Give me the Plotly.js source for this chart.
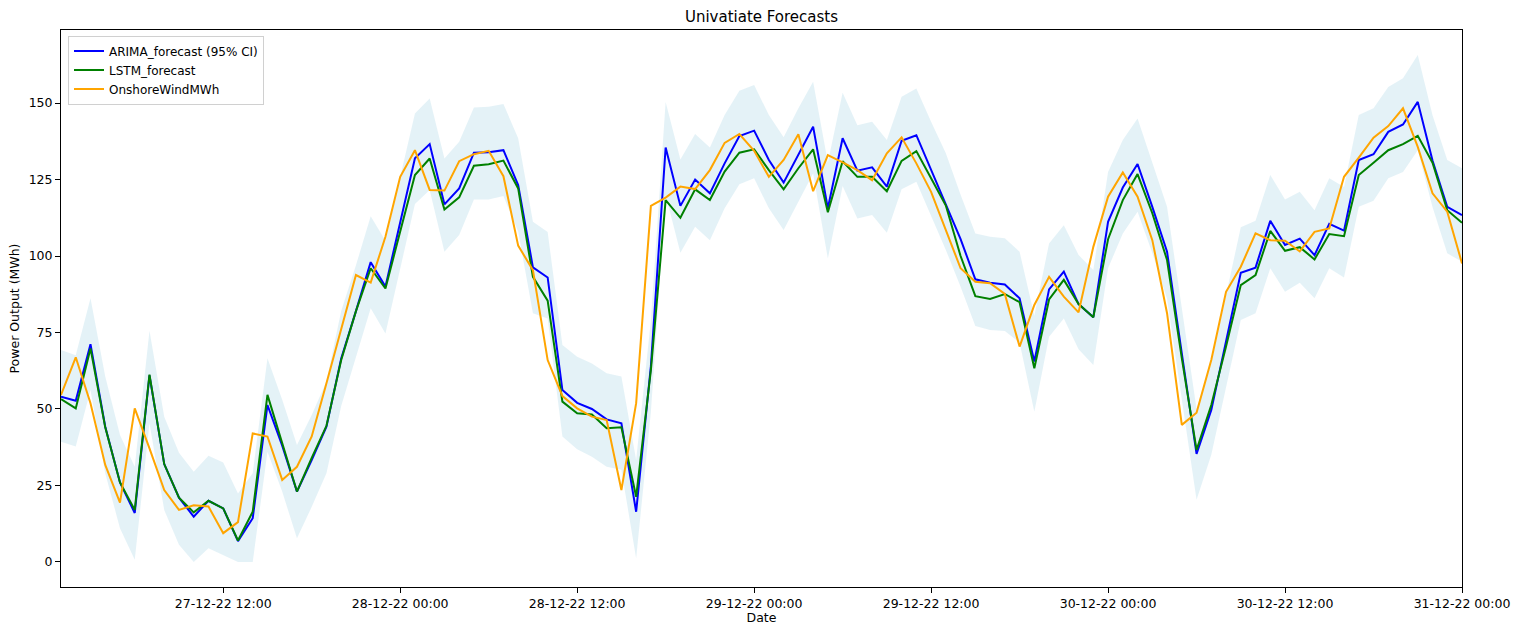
<!DOCTYPE html>
<html>
<head>
<meta charset="utf-8">
<script src="https://cdn.plot.ly/plotly-3.0.1.min.js"></script>
<style>
  html, body { margin: 0; padding: 0; background: #fff; }
  #chart { width: 1525px; height: 625px; }
</style>
</head>
<body>
<div id="chart"></div>
<script>
// Hourly timestamps: first point and count
const startTime = '2022-12-27T01:00:00';
const nPoints = 96;

const arimaForecast = [
  54.0, 52.7, 71.2, 44.2, 26.0, 16.0, 61.0, 32.0, 21.0, 14.8, 20.0, 17.5,
  6.8, 14.3, 51.3, 38.0, 23.0, 33.3, 44.2, 66.5, 82.0, 98.0, 90.0, 111.5,
  132.0, 136.6, 116.9, 122.1, 133.8, 133.9, 134.6, 123.2, 96.3, 93.0, 56.2, 52.0,
  50.0, 46.6, 45.3, 16.4, 64.0, 135.5, 116.4, 125.0, 120.5, 130.3, 139.2, 141.0,
  131.4, 124.0, 133.1, 142.3, 115.6, 138.5, 127.9, 129.0, 122.7, 137.7, 139.5, 128.3,
  117.2, 105.5, 92.4, 91.3, 90.7, 86.2, 65.5, 89.1, 94.9, 84.3, 80.0, 111.2,
  122.4, 130.1, 116.1, 101.4, 68.2, 35.3, 49.7, 72.5, 94.5, 96.2, 111.5, 103.6,
  105.7, 100.3, 110.5, 108.3, 131.4, 133.3, 140.6, 143.0, 150.4, 131.2, 116.1, 113.4
];

const lstmForecast = [
  53.2, 50.2, 69.8, 44.0, 26.0, 17.0, 61.2, 32.0, 21.0, 16.2, 20.0, 17.5,
  7.0, 16.4, 54.6, 39.0, 23.0, 34.0, 44.5, 66.0, 82.0, 96.0, 89.4, 108.0,
  126.5, 131.9, 115.2, 119.2, 129.5, 130.0, 131.2, 122.1, 93.2, 85.4, 52.4, 48.6,
  48.2, 43.7, 44.0, 21.3, 62.7, 118.3, 112.5, 121.8, 118.3, 127.6, 133.8, 134.9,
  128.1, 121.8, 128.7, 134.9, 114.3, 131.0, 125.9, 125.9, 121.2, 131.1, 134.3, 125.4,
  116.5, 100.0, 86.9, 86.0, 87.6, 84.9, 63.3, 85.8, 92.2, 84.3, 80.0, 105.5,
  118.3, 126.8, 114.0, 98.7, 66.6, 36.6, 51.3, 70.4, 90.5, 93.8, 108.2, 101.7,
  102.9, 98.9, 107.2, 106.5, 126.5, 130.5, 134.6, 136.6, 139.3, 130.5, 115.0, 110.9
];

const onshoreWind = [
  54.6, 66.9, 51.9, 31.7, 19.4, 50.2, 37.1, 23.5, 17.0, 18.5, 18.1, 9.4,
  13.0, 42.0, 41.0, 26.8, 31.1, 41.0, 58.4, 76.4, 93.8, 91.3, 106.3, 125.9,
  134.6, 121.6, 121.4, 131.0, 133.3, 134.4, 126.1, 103.4, 95.4, 66.0, 54.2, 50.2,
  47.5, 46.4, 23.5, 51.9, 116.4, 119.1, 122.7, 121.9, 128.1, 137.0, 139.9, 134.4,
  125.9, 131.4, 139.8, 121.2, 133.0, 130.6, 128.1, 124.8, 133.6, 138.8, 130.3, 121.0,
  108.5, 96.0, 91.6, 91.1, 87.6, 70.4, 84.0, 93.2, 86.7, 81.6, 103.0, 119.4,
  127.3, 119.4, 105.2, 81.3, 44.8, 48.8, 66.0, 88.3, 96.5, 107.4, 105.2, 105.0,
  101.5, 107.9, 109.0, 125.9, 132.2, 138.7, 142.5, 148.3, 135.7, 120.5, 114.5, 97.6
];

const ciUpper = [
  69.3, 67.6, 86.2, 60.6, 41.5, 31.1, 75.6, 47.5, 35.7, 29.5, 34.7, 32.5,
  22.4, 29.0, 66.6, 53.0, 38.2, 48.0, 59.0, 82.0, 97.0, 113.0, 105.0, 126.0,
  146.6, 151.5, 131.9, 137.4, 148.6, 148.8, 149.7, 138.5, 111.2, 107.9, 70.9, 67.1,
  64.9, 61.7, 60.6, 33.3, 79.0, 150.4, 131.6, 139.9, 135.5, 146.1, 154.0, 155.9,
  146.1, 138.8, 148.3, 157.0, 130.6, 153.4, 142.8, 143.9, 137.9, 152.1, 154.8, 143.9,
  133.6, 120.0, 107.4, 106.3, 105.8, 101.4, 80.5, 104.1, 110.1, 100.3, 95.4, 127.5,
  137.9, 145.0, 130.8, 116.1, 83.0, 50.0, 65.0, 87.0, 109.4, 111.5, 126.5, 118.5,
  121.0, 115.0, 125.4, 122.6, 146.1, 148.3, 155.3, 158.1, 165.7, 146.0, 131.4, 128.7
];

const ciLower = [
  39.3, 37.7, 56.2, 29.0, 11.0, 0.7, 45.3, 17.0, 5.6, 0.0, 4.5, 2.3,
  0.0, 0.0, 36.0, 23.0, 7.7, 18.0, 29.0, 51.0, 67.0, 82.9, 74.7, 96.0,
  117.0, 121.6, 101.4, 106.9, 118.5, 118.5, 119.6, 108.0, 81.3, 79.6, 41.0, 36.8,
  34.4, 31.1, 30.1, 1.2, 49.0, 120.0, 101.1, 109.6, 105.2, 115.6, 123.5, 125.4,
  115.6, 108.5, 118.0, 127.0, 99.2, 122.9, 112.3, 113.4, 107.6, 121.8, 124.3, 113.0,
  102.0, 90.0, 77.1, 75.8, 75.5, 71.7, 49.1, 73.6, 79.6, 69.5, 64.4, 96.0,
  107.4, 114.5, 101.0, 86.0, 53.0, 20.3, 35.0, 57.0, 79.1, 81.3, 96.0, 88.3,
  91.3, 86.2, 96.0, 93.0, 116.1, 118.1, 125.4, 127.5, 134.6, 116.0, 100.9, 98.1
];

const yTickVals = [0, 25, 50, 75, 100, 125, 150];

function pad(n) { return (n < 10 ? '0' : '') + n; }
const t0 = new Date(startTime + 'Z').getTime();
const dates = [];
for (let i = 0; i < nPoints; i++) {
  const d = new Date(t0 + i * 3600000);
  dates.push(d.getUTCFullYear() + '-' + pad(d.getUTCMonth() + 1) + '-' + pad(d.getUTCDate()) +
             ' ' + pad(d.getUTCHours()) + ':00');
}

const font = 'DejaVu Sans, sans-serif';

const traces = [
  { x: dates, y: ciUpper, type: 'scatter', mode: 'lines', line: { width: 0, color: 'rgba(0,0,0,0)' },
    showlegend: false, hoverinfo: 'skip' },
  { x: dates, y: ciLower, type: 'scatter', mode: 'lines', line: { width: 0, color: 'rgba(0,0,0,0)' },
    fill: 'tonexty', fillcolor: 'rgba(173,216,230,0.33)', showlegend: false, hoverinfo: 'skip' },
  { x: dates, y: arimaForecast, type: 'scatter', mode: 'lines', name: 'ARIMA_forecast (95% CI)',
    line: { color: '#0000ff', width: 2 } },
  { x: dates, y: lstmForecast, type: 'scatter', mode: 'lines', name: 'LSTM_forecast',
    line: { color: '#008000', width: 2 } },
  { x: dates, y: onshoreWind, type: 'scatter', mode: 'lines', name: 'OnshoreWindMWh',
    line: { color: '#ffa500', width: 2 } }
];

const layout = {
  width: 1525, height: 625,
  margin: { l: 61, r: 63, t: 30, b: 38, pad: 0 },
  paper_bgcolor: '#fff', plot_bgcolor: '#fff',
  font: { family: font, size: 12.5, color: '#000' },
  title: { text: 'Univatiate Forecasts', font: { family: font, size: 15, color: '#000' },
           x: 0.5, xref: 'paper', xanchor: 'center', y: 1 - 17 / 625, yref: 'container', yanchor: 'middle' },
  xaxis: {
    type: 'date',
    range: [dates[0], dates[nPoints - 1]],
    tick0: '2022-12-27 12:00', dtick: 12 * 3600000,
    tickformat: '%d-%m-%y %H:%M',
    ticks: 'outside', ticklen: 5, tickwidth: 1, tickcolor: '#000',
    showline: true, linecolor: '#000', linewidth: 1, mirror: true,
    showgrid: false, zeroline: false,
    tickfont: { family: font, size: 12.5, color: '#000' },
    title: { text: 'Date', font: { family: font, size: 12.5, color: '#000' }, standoff: 9 }
  },
  yaxis: {
    range: [-8.2, 173.9],
    tickvals: yTickVals,
    ticks: 'outside', ticklen: 5, tickwidth: 1, tickcolor: '#000',
    showline: true, linecolor: '#000', linewidth: 1, mirror: true,
    showgrid: false, zeroline: false,
    tickfont: { family: font, size: 12.5, color: '#000' },
    title: { text: 'Power Output (MWh)', font: { family: font, size: 12.5, color: '#000' }, standoff: 6 }
  },
  legend: {
    x: 0.005, y: 0.99, xanchor: 'left', yanchor: 'top',
    traceorder: 'normal',
    bgcolor: 'rgba(255,255,255,0.85)', bordercolor: '#d0d0d0', borderwidth: 1,
    font: { family: font, size: 12, color: '#000' },
    tracegroupgap: 0, itemwidth: 30
  },
  showlegend: true
};

Plotly.newPlot('chart', traces, layout, { displayModeBar: false, staticPlot: true });
</script>
</body>
</html>
